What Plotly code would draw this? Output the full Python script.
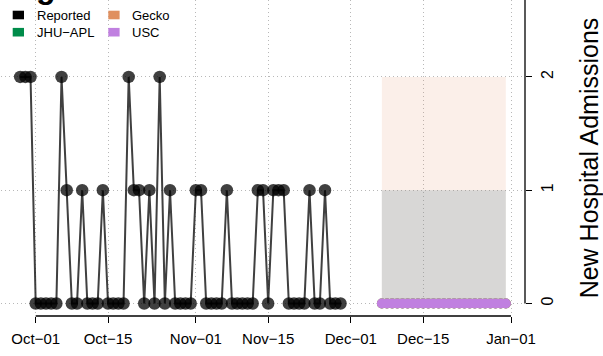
import pandas as pd
import plotly.graph_objects as go

# ---------------- data ----------------
reported_dates = pd.date_range("2023-09-28", "2023-11-29", freq="D")
reported_values = [2, 2, 2, 0, 0, 0, 0, 0, 2, 1, 0, 0, 1, 0, 0, 0, 1, 0, 0, 0, 0,
                   2, 1, 1, 0, 1, 0, 2, 0, 1, 0, 0, 0, 0, 1, 1, 0, 0, 0, 0, 1,
                   0, 0, 0, 0, 0, 1, 1, 0, 1, 1, 1, 0, 0, 0, 0, 1, 0, 0, 1, 0, 0, 0]

forecast_dates = pd.date_range("2023-12-07", "2023-12-31", freq="D")
jhu_median = [0, 0, 0, 0, 0, 0, 0, 0, 0, 0, 0, 0, 0, 0, 0, 0, 0, 0, 0, 0, 0, 0, 0, 0, 0]
gecko_median = [0, 0, 0, 0, 0, 0, 0, 0, 0, 0, 0, 0, 0, 0, 0, 0, 0, 0, 0, 0, 0, 0, 0, 0, 0]
usc_median = [0, 0, 0, 0, 0, 0, 0, 0, 0, 0, 0, 0, 0, 0, 0, 0, 0, 0, 0, 0, 0, 0, 0, 0, 0]
jhu_lower = [0, 0, 0, 0, 0, 0, 0, 0, 0, 0, 0, 0, 0, 0, 0, 0, 0, 0, 0, 0, 0, 0, 0, 0, 0]
jhu_upper = [1, 1, 1, 1, 1, 1, 1, 1, 1, 1, 1, 1, 1, 1, 1, 1, 1, 1, 1, 1, 1, 1, 1, 1, 1]
gecko_lower = [0, 0, 0, 0, 0, 0, 0, 0, 0, 0, 0, 0, 0, 0, 0, 0, 0, 0, 0, 0, 0, 0, 0, 0, 0]
gecko_upper = [2, 2, 2, 2, 2, 2, 2, 2, 2, 2, 2, 2, 2, 2, 2, 2, 2, 2, 2, 2, 2, 2, 2, 2, 2]
usc_lower = [0, 0, 0, 0, 0, 0, 0, 0, 0, 0, 0, 0, 0, 0, 0, 0, 0, 0, 0, 0, 0, 0, 0, 0, 0]
usc_upper = [1, 1, 1, 1, 1, 1, 1, 1, 1, 1, 1, 1, 1, 1, 1, 1, 1, 1, 1, 1, 1, 1, 1, 1, 1]

x_tick_dates = ["2023-10-01", "2023-10-15", "2023-11-01", "2023-11-15",
                "2023-12-01", "2023-12-15", "2024-01-01"]
x_tick_labels = ["Oct\u221201", "Oct\u221215", "Nov\u221201", "Nov\u221215",
                 "Dec\u221201", "Dec\u221215", "Jan\u221201"]
y_tick_vals = [0, 1, 2]
y_tick_labels = ["0", "1", "2"]

legend_names = ["Reported", "JHU\u2212APL", "Gecko", "USC"]
legend_colors = ["#000000", "#008C4A", "#E0905F", "#C080E0"]

# ---------------- geometry ----------------
W, H = 603, 356
PX_L, PX_R, PX_T, PX_B = 1, 525, 0, 316
FONT = "Liberation Sans, Arial, Helvetica, sans-serif"

px_per_day = (511 - 35.7) / 92.0
x_left = pd.Timestamp(x_tick_dates[0]) - pd.Timedelta(days=(35.7 - PX_L) / px_per_day)
x_right = pd.Timestamp(x_tick_dates[-1]) + pd.Timedelta(days=(PX_R - 511) / px_per_day)
px_per_unit = 113.3
y_range = [-(PX_B - 303.5) / px_per_unit, (303.5 - PX_T) / px_per_unit]


def ribbon(dates, lo, hi, color, name):
    xs = list(dates) + list(dates[::-1])
    ys = list(hi) + list(lo[::-1])
    return go.Scatter(x=xs, y=ys, fill="toself", fillcolor=color, mode="lines",
                      line=dict(width=0), hoverinfo="skip", showlegend=False, name=name)


fig = go.Figure()
fig.add_trace(ribbon(forecast_dates, gecko_lower, gecko_upper, "rgba(224,144,96,0.14)", "Gecko PI"))
fig.add_trace(ribbon(forecast_dates, jhu_lower, jhu_upper, "rgba(0,136,74,0.12)", "JHU-APL PI"))
fig.add_trace(ribbon(forecast_dates, usc_lower, usc_upper, "rgba(192,128,224,0.12)", "USC PI"))

fig.add_trace(go.Scatter(x=reported_dates, y=reported_values, mode="lines+markers",
                         line=dict(color="rgba(30,30,30,0.85)", width=2),
                         marker=dict(size=12.5, color="rgba(0,0,0,0.75)", line=dict(width=0)),
                         showlegend=False, name="Reported"))
fig.add_trace(go.Scatter(x=forecast_dates, y=jhu_median, mode="markers",
                         marker=dict(size=10, color=legend_colors[1]), showlegend=False, name="JHU-APL"))
fig.add_trace(go.Scatter(x=forecast_dates, y=gecko_median, mode="markers",
                         marker=dict(size=10, color=legend_colors[2]), showlegend=False, name="Gecko"))
fig.add_trace(go.Scatter(x=forecast_dates, y=usc_median, mode="markers",
                         marker=dict(size=10, color=legend_colors[3]), showlegend=False, name="USC"))


def pxx(px):
    return (px - PX_L) / (PX_R - PX_L)


def pxy(py):
    return (PX_B - py) / (PX_B - PX_T)


shapes = []
annotations = []
# manual legend (2 columns)
legend_slots = [(12.7, 15.0), (12.7, 32.2), (108.3, 15.0), (108.3, 32.2)]
for (lx, ly), name, col in zip(legend_slots, legend_names, legend_colors):
    shapes.append(dict(type="rect", xref="paper", yref="paper",
                       x0=pxx(lx), x1=pxx(lx + 11.3), y0=pxy(ly - 4.3), y1=pxy(ly + 4.3),
                       fillcolor=col, line=dict(width=0), layer="above"))
    annotations.append(dict(text=name, xref="paper", yref="paper", x=pxx(lx + 22.0), y=pxy(ly),
                            xanchor="left", yanchor="middle", showarrow=False,
                            font=dict(size=13, color="#000000", family=FONT)))

# R-style axis lines (x spans tick range; y from 0 upward)
shapes.append(dict(type="line", xref="x", yref="paper", x0=x_tick_dates[0], x1=x_tick_dates[-1],
                   y0=0, y1=0, line=dict(color="#000000", width=1.3), layer="above"))
shapes.append(dict(type="line", xref="paper", yref="y", x0=1, x1=1, y0=0, y1=3,
                   line=dict(color="#000000", width=1.3), layer="above"))

# clipped title
annotations.append(dict(text="<b>g</b>", xref="paper", yref="paper", x=pxx(34), y=1,
                        xanchor="left", yanchor="bottom", yshift=-7, showarrow=False,
                        font=dict(size=32, color="#000000", family=FONT)))

fig.update_layout(
    width=W, height=H,
    margin=dict(l=PX_L, r=W - PX_R, t=PX_T, b=H - PX_B, pad=0),
    paper_bgcolor="white", plot_bgcolor="white",
    font=dict(family=FONT, color="#000000"),
    showlegend=False,
    shapes=shapes, annotations=annotations,
    xaxis=dict(type="date", range=[x_left.isoformat(), x_right.isoformat()],
               tickvals=x_tick_dates, ticktext=x_tick_labels,
               ticks="outside", ticklen=6, tickwidth=1.3, tickcolor="#000000",
               ticklabelstandoff=3,
               tickfont=dict(size=15, color="#000000"),
               showgrid=True, gridcolor="#B8B8B8", griddash="1px,3px", gridwidth=1,
               showline=False, zeroline=False),
    yaxis=dict(range=y_range, side="right",
               tickvals=y_tick_vals, ticktext=y_tick_labels, tickangle=-90,
               ticks="outside", ticklen=6, tickwidth=1.3, tickcolor="#000000",
               ticklabelstandoff=2,
               tickfont=dict(size=16, color="#000000"),
               showgrid=True, gridcolor="#B8B8B8", griddash="1px,3px", gridwidth=1,
               showline=False, zeroline=False,
               title=dict(text="New Hospital Admissions", font=dict(size=25, color="#000000"),
                          standoff=28)),
)

fig.write_html("out.html", config={"displayModeBar": False},
               post_script="document.body.style.margin='0';document.body.style.overflow='hidden';")
